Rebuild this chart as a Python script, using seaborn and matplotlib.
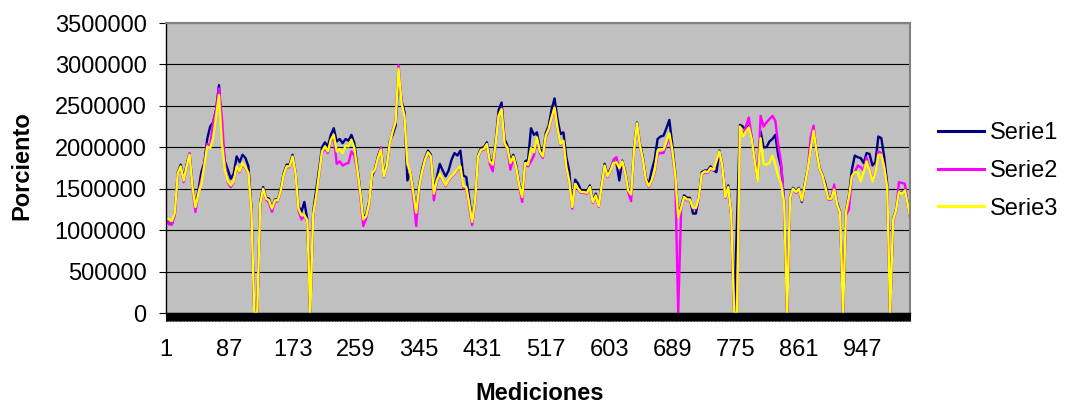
import numpy as np
import pandas as pd
import matplotlib
matplotlib.use("Agg")
import matplotlib.pyplot as plt
from matplotlib.ticker import FixedLocator, FuncFormatter
import seaborn as sns

# Mediciones muestreadas (índice de medición) y valores en miles
medicion = list(range(1, 1010, 4)) + [1012]

serie3_miles = [
    1150, 1130, 1110, 1210, 1690, 1770, 1600, 1770, 1910, 1520,
    1280, 1440, 1560, 1770, 2010, 1990, 2110, 2370, 2630, 2050,
    1730, 1590, 1540, 1590, 1770, 1710, 1810, 1760, 1690, 1240,
    0, 0, 1320, 1500, 1380, 1360, 1260, 1360, 1360, 1480,
    1670, 1770, 1770, 1890, 1690, 1260, 1180, 1180, 1120, 0,
    1190, 1400, 1670, 1950, 2010, 1950, 2090, 2150, 1950, 1980,
    1930, 2020, 2010, 2090, 1990, 1730, 1460, 1130, 1170, 1320,
    1690, 1730, 1870, 1970, 1650, 1770, 2050, 2190, 2310, 2950,
    2530, 2370, 1810, 1690, 1460, 1210, 1520, 1710, 1850, 1940,
    1890, 1440, 1600, 1680, 1610, 1540, 1610, 1650, 1690, 1740,
    1770, 1530, 1520, 1320, 1100, 1360, 1890, 1970, 1980, 2040,
    1830, 1790, 2050, 2380, 2460, 2050, 1990, 1810, 1890, 1750,
    1540, 1400, 1810, 1790, 1990, 1940, 2120, 1950, 1890, 2140,
    2220, 2360, 2480, 2230, 2040, 2080, 1760, 1590, 1280, 1560,
    1500, 1460, 1460, 1450, 1520, 1340, 1420, 1290, 1540, 1780,
    1650, 1720, 1810, 1820, 1750, 1830, 1690, 1480, 1430, 1970,
    2290, 2020, 1860, 1610, 1530, 1600, 1720, 1960, 1980, 1970,
    2070, 2170, 1970, 1670, 1160, 1270, 1400, 1370, 1370, 1270,
    1270, 1390, 1680, 1710, 1700, 1750, 1730, 1840, 1950, 1770,
    1400, 1520, 1200, 0, 0, 2250, 2130, 2190, 2240, 2090,
    1830, 1590, 2110, 1800, 1790, 1810, 1900, 1790, 1650, 1560,
    1320, 0, 1390, 1500, 1460, 1500, 1360, 1540, 1730, 1970,
    2200, 1950, 1740, 1660, 1520, 1380, 1380, 1490, 1310, 1210,
    0, 1220, 1400, 1650, 1700, 1700, 1590, 1700, 1830, 1720,
    1590, 1690, 1910, 1910, 1750, 1510, 0, 1120, 1240, 1460,
    1440, 1480, 1310, 1160,
]

serie1_miles = [
    1160, 1080, 1070, 1200, 1700, 1790, 1620, 1790, 1920, 1540,
    1300, 1480, 1700, 1810, 2100, 2250, 2300, 2450, 2750, 2150,
    1830, 1730, 1620, 1680, 1890, 1820, 1910, 1870, 1770, 1280,
    0, 0, 1340, 1520, 1390, 1380, 1270, 1370, 1370, 1500,
    1690, 1790, 1790, 1910, 1700, 1290, 1220, 1340, 1130, 0,
    1220, 1480, 1730, 2000, 2060, 2010, 2150, 2230, 2070, 2100,
    2050, 2100, 2080, 2150, 2050, 1760, 1480, 1150, 1190, 1340,
    1650, 1740, 1890, 1990, 1670, 1790, 2070, 2150, 2260, 2900,
    2560, 2430, 1600, 1700, 1480, 1230, 1540, 1740, 1870, 1960,
    1910, 1470, 1640, 1800, 1720, 1650, 1720, 1850, 1930, 1900,
    1960, 1660, 1640, 1380, 1120, 1380, 1900, 1990, 2000, 2060,
    1860, 1810, 2080, 2450, 2540, 2100, 2020, 1840, 1910, 1780,
    1560, 1420, 1830, 1850, 2230, 2150, 2180, 1990, 1920, 2170,
    2260, 2460, 2590, 2340, 2160, 2180, 1880, 1710, 1300, 1610,
    1560, 1480, 1480, 1470, 1540, 1360, 1440, 1310, 1560, 1800,
    1670, 1740, 1830, 1820, 1600, 1840, 1710, 1500, 1450, 1990,
    2300, 2040, 1880, 1630, 1550, 1720, 1850, 2100, 2130, 2140,
    2230, 2330, 2030, 1700, 1180, 1290, 1420, 1390, 1390, 1200,
    1200, 1400, 1700, 1720, 1720, 1770, 1720, 1700, 1960, 1780,
    1420, 1540, 1200, 0, 1120, 2270, 2250, 2210, 2260, 2110,
    1850, 1600, 2190, 2000, 2000, 2070, 2100, 2150, 1900, 1760,
    1340, 0, 1400, 1510, 1470, 1510, 1340, 1560, 1740, 1980,
    2190, 1960, 1750, 1670, 1560, 1390, 1390, 1500, 1330, 1220,
    0, 1230, 1420, 1730, 1900, 1880, 1870, 1810, 1930, 1920,
    1780, 1820, 2130, 2110, 1880, 1560, 0, 1130, 1250, 1460,
    1450, 1490, 1320, 1170,
]

serie2_miles = [
    1150, 1070, 1070, 1190, 1680, 1760, 1580, 1760, 1930, 1500,
    1220, 1460, 1600, 1780, 2040, 2020, 2290, 2450, 2710, 2350,
    1800, 1570, 1520, 1580, 1760, 1700, 1800, 1750, 1680, 1220,
    0, 0, 1300, 1490, 1370, 1330, 1220, 1340, 1350, 1470,
    1660, 1760, 1760, 1880, 1680, 1240, 1130, 1170, 1110, 0,
    1180, 1390, 1650, 1930, 1990, 1930, 2070, 2130, 1800, 1830,
    1780, 1800, 1810, 1950, 1900, 1700, 1420, 1050, 1140, 1300,
    1680, 1720, 1860, 2000, 1640, 1760, 2040, 2210, 2320, 2990,
    2550, 2380, 1790, 1680, 1400, 1050, 1500, 1700, 1840, 1930,
    1870, 1360, 1580, 1670, 1600, 1530, 1600, 1640, 1680, 1730,
    1760, 1510, 1500, 1290, 1060, 1340, 1880, 1960, 1970, 2030,
    1800, 1710, 2040, 2380, 2470, 2040, 1980, 1730, 1870, 1740,
    1530, 1340, 1790, 1770, 1830, 1900, 2100, 1930, 1870, 2120,
    2200, 2350, 2470, 2220, 2030, 2070, 1750, 1580, 1260, 1550,
    1490, 1450, 1450, 1440, 1510, 1330, 1410, 1280, 1530, 1770,
    1640, 1710, 1850, 1880, 1740, 1820, 1680, 1460, 1350, 1960,
    2280, 2010, 1850, 1600, 1520, 1590, 1700, 1920, 1930, 1930,
    2030, 2130, 1920, 1640, 0, 1250, 1390, 1360, 1360, 1260,
    1260, 1380, 1670, 1700, 1690, 1740, 1720, 1830, 1940, 1760,
    1390, 1510, 1190, 0, 0, 2240, 2140, 2250, 2360, 2120,
    1850, 1600, 2380, 2250, 2300, 2340, 2380, 2320, 2030, 1800,
    1310, 0, 1380, 1490, 1450, 1490, 1350, 1530, 1730, 2120,
    2260, 1940, 1730, 1650, 1510, 1370, 1370, 1550, 1300, 1200,
    0, 1180, 1250, 1640, 1700, 1780, 1760, 1720, 1880, 1730,
    1600, 1700, 1950, 1930, 1760, 1510, 0, 1110, 1230, 1580,
    1570, 1560, 1310, 1150,
]

series = ["Serie1", "Serie2", "Serie3"]
colores = ["#000080", "#FF00FF", "#FFFF00"]
x_etiquetas = list(range(1, 1012, 86))
y_marcas = list(range(0, 3500001, 500000))
n_mediciones = 1012

plt.rcParams["font.family"] = ["Liberation Sans", "DejaVu Sans"]

df = pd.concat([
    pd.DataFrame({"Medicion": medicion,
                  "Valor": np.array(v) * 1000,
                  "Serie": nombre})
    for nombre, v in zip(series, [serie1_miles, serie2_miles, serie3_miles])
], ignore_index=True)

W, H = 1069, 408
fig = plt.figure(figsize=(W / 100, H / 100), dpi=100)
fig.patch.set_facecolor("white")
L, R, T, B = 166, 910, 23, 313
ax = fig.add_axes([L / W, (H - B) / H, (R - L) / W, (B - T) / H])
ax.set_facecolor("#C0C0C0")

sns.lineplot(data=df, x="Medicion", y="Valor", hue="Serie",
             hue_order=series, palette=dict(zip(series, colores)),
             estimator=None, sort=True, linewidth=1.7, ax=ax, legend=True)

ax.set_xlim(1, n_mediciones)
ax.set_ylim(0, 3500000)

# Gridlines
ax.set_yticks(y_marcas)
ax.yaxis.set_major_formatter(FuncFormatter(lambda v, p: f"{int(v)}"))
ax.grid(axis="y", color="black", linewidth=0.8)
ax.grid(axis="x", visible=False)
ax.set_axisbelow(True)

# Category axis: one tick per measurement, labels every 86
ax.xaxis.set_major_locator(FixedLocator(x_etiquetas))
ax.xaxis.set_minor_locator(FixedLocator(list(range(1, n_mediciones + 1))))
ax.tick_params(axis="x", which="both", direction="out", length=6,
               width=0.8, color="black", labelsize=17, pad=13)
ax.tick_params(axis="y", which="major", direction="out", length=5,
               width=0.8, color="black", labelsize=17, pad=9)

for lado in ("left", "bottom"):
    ax.spines[lado].set_color("black")
    ax.spines[lado].set_linewidth(1.0)
for lado in ("top", "right"):
    ax.spines[lado].set_color("#808080")
    ax.spines[lado].set_linewidth(1.5)

ax.set_xlabel("Mediciones", fontsize=17, fontweight="bold", va="center")
ax.xaxis.set_label_coords((540 - L) / (R - L), (B - 393) / (B - T))
ax.set_ylabel("Porciento", fontsize=17, fontweight="bold", va="center")
ax.yaxis.set_label_coords((22 - L) / (R - L), (B - 166) / (B - T))

handles, labels = ax.get_legend_handles_labels()
for h in handles:
    h.set_linewidth(2.2)
ax.legend(handles, labels, loc="upper left", frameon=False, fontsize=17,
          bbox_to_anchor=(938 / W, (H - 122) / H), bbox_transform=fig.transFigure,
          borderpad=0, borderaxespad=0, handlelength=1.95, handletextpad=0.25,
          labelspacing=0.67)

fig.savefig("out.png", dpi=100, facecolor="white")
